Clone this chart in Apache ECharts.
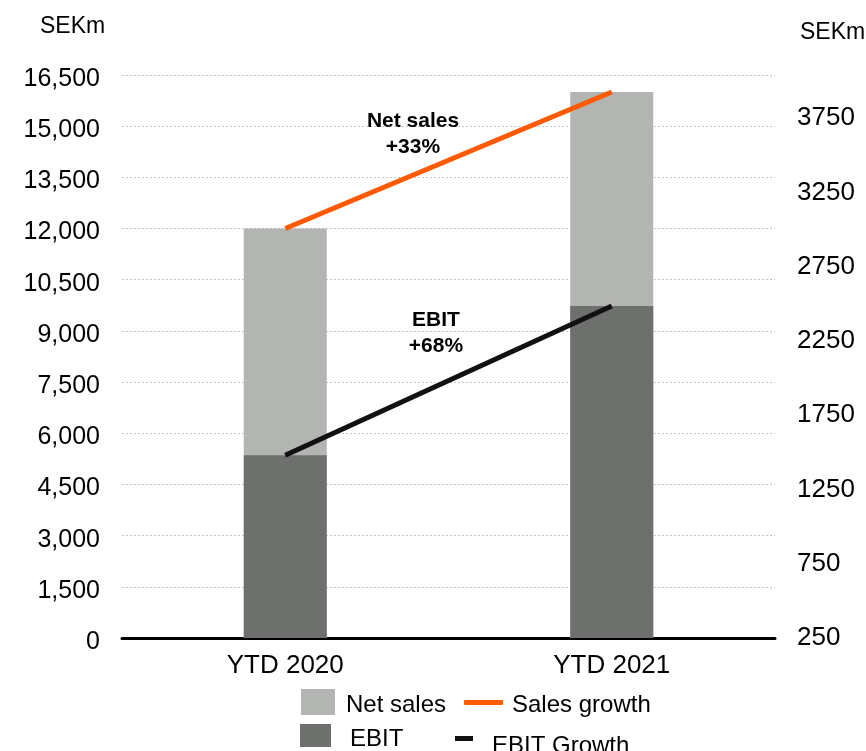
<!DOCTYPE html>
<html>
<head>
<meta charset="utf-8">
<script src="https://cdn.jsdelivr.net/npm/echarts@6/dist/echarts.min.js"></script>
<style>
  html, body { margin: 0; padding: 0; background: #fff; }
  #chart { width: 866px; height: 751px; }
</style>
</head>
<body>
<div id="chart"></div>
<script>
// Period categories
const categories = ['YTD 2020', 'YTD 2021'];
// Net sales, SEKm (left axis)
const netSales = [12000, 16000];
// EBIT, SEKm (right axis)
const ebit = [1480, 2485];
// Growth callouts
const salesGrowthLabel = 'Net sales\n+33%';
const ebitGrowthLabel = 'EBIT\n+68%';

const FONT = '"Liberation Sans", Arial, Helvetica, sans-serif';
const C_SALES = '#B3B5B2';
const C_EBIT = '#6E706E';
const C_ORANGE = '#FF5A00';
const C_BLACK = '#111111';

const chart = echarts.init(document.getElementById('chart'), null, { renderer: 'canvas' });

// One legend block per entry so each swatch keeps its own size;
// the rich token's top padding nudges the label below the swatch centre.
function legendOf(name, icon, color, left, top, w, h, padTop, gapLeft) {
  return {
    data: [{ name: name, icon: icon, itemStyle: { color: color, borderWidth: 0 } }],
    left: left, top: top, padding: 0,
    itemWidth: w, itemHeight: h,
    selectedMode: false,
    formatter: n => '{t|' + n + '}',
    textStyle: {
      fontFamily: FONT, fontSize: 24, color: '#000',
      rich: {
        t: { fontFamily: FONT, fontSize: 24, lineHeight: 26, color: '#000',
             padding: [padTop, 0, 0, gapLeft] }
      }
    }
  };
}

chart.setOption({
  animation: false,
  backgroundColor: '#fff',
  title: [
    { text: 'SEKm', left: 40, top: 15, padding: 0,
      textStyle: { fontFamily: FONT, fontSize: 23, fontWeight: 'normal', color: '#000' } },
    { text: 'SEKm', left: 800, top: 21, padding: 0,
      textStyle: { fontFamily: FONT, fontSize: 23, fontWeight: 'normal', color: '#000' } }
  ],
  legend: [
    legendOf('Net sales', 'rect', C_SALES, 301, 686.5, 34, 26, 7, 6),
    legendOf('Sales growth', 'roundRect', C_ORANGE, 464, 687.5, 39, 5, 6, 4),
    legendOf('EBIT', 'rect', C_EBIT, 300, 720, 31, 23, 7, 14),
    legendOf('EBIT Growth', 'rect', C_BLACK, 455, 718.5, 18, 5, 16, 14)
  ],
  grid: { left: 122, right: 91, top: 75, bottom: 113, containLabel: false },
  xAxis: {
    type: 'category',
    data: categories,
    axisLine: { show: true, lineStyle: { color: '#000', width: 3 } },
    axisTick: { show: false },
    axisLabel: { fontFamily: FONT, fontSize: 26, color: '#000', margin: 15 }
  },
  yAxis: [
    {
      type: 'value', min: 0, max: 16500, interval: 1500,
      axisLine: { show: false }, axisTick: { show: false },
      axisLabel: {
        fontFamily: FONT, fontSize: 25, color: '#000', margin: 22,
        formatter: v => '{v|' + v.toLocaleString('en-US') + '}',
        rich: { v: { fontFamily: FONT, fontSize: 25, color: '#000', padding: [8, 0, 0, 0] } }
      },
      splitLine: { show: true, lineStyle: { color: '#c6c6c6', type: [2, 2], width: 1 } }
    },
    {
      type: 'value', min: 250, max: 4040, interval: 500,
      axisLine: { show: false }, axisTick: { show: false },
      axisLabel: {
        fontFamily: FONT, fontSize: 26, color: '#000', margin: 22,
        showMaxLabel: false,
        formatter: v => (v > 3750 ? '' : String(v))
      },
      splitLine: { show: false }
    }
  ],
  series: [
    {
      name: 'Net sales', type: 'bar', yAxisIndex: 0, data: netSales,
      barWidth: 83, barGap: '-100%',
      itemStyle: { color: C_SALES }, z: 1
    },
    {
      name: 'EBIT', type: 'bar', yAxisIndex: 1, data: ebit,
      barWidth: 83, barGap: '-100%',
      itemStyle: { color: C_EBIT }, z: 2
    },
    {
      name: 'Sales growth', type: 'line', yAxisIndex: 0, data: netSales,
      symbol: 'none', lineStyle: { color: C_ORANGE, width: 5 }, itemStyle: { color: C_ORANGE }, z: 5
    },
    {
      name: 'EBIT Growth', type: 'line', yAxisIndex: 1, data: ebit,
      symbol: 'none', lineStyle: { color: C_BLACK, width: 5 }, itemStyle: { color: C_BLACK }, z: 5
    }
  ],
  graphic: [
    { type: 'text', x: 413, y: 108, z: 10,
      style: { text: salesGrowthLabel, fontFamily: FONT, fontSize: 21, fontWeight: 'bold',
               fill: '#000', align: 'center', verticalAlign: 'top', lineHeight: 26 } },
    { type: 'text', x: 436, y: 307, z: 10,
      style: { text: ebitGrowthLabel, fontFamily: FONT, fontSize: 21, fontWeight: 'bold',
               fill: '#000', align: 'center', verticalAlign: 'top', lineHeight: 26 } }
  ]
});
</script>
</body>
</html>
